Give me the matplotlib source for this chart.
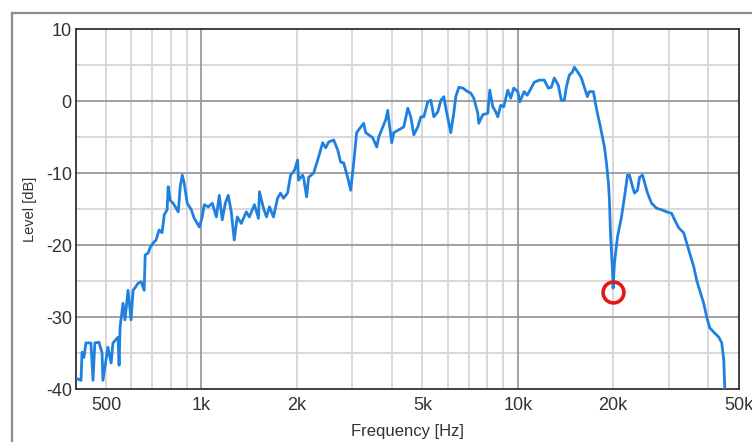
import matplotlib
matplotlib.use("Agg")
import matplotlib.pyplot as plt
from matplotlib.lines import Line2D

plt.rcParams['font.family'] = ['Liberation Sans', 'DejaVu Sans']
plt.rcParams['axes.unicode_minus'] = False

freq_hz = [402, 417, 420, 426, 432, 448, 455, 461, 475, 486, 489, 507, 519, 526,
           546, 550, 554, 566, 574, 587, 600, 609, 632, 646, 660, 665, 680, 690,
           705, 720, 736, 752, 764, 780, 786, 798, 815, 833, 846, 858, 871, 883,
           903, 930, 950, 986, 1007, 1022, 1052, 1084, 1116, 1140, 1165, 1191,
           1217, 1244, 1271, 1299, 1338, 1388, 1419, 1472, 1516, 1527, 1573, 1607,
           1643, 1691, 1742, 1780, 1819, 1873, 1915, 1972, 2015, 2030, 2090, 2106,
           2152, 2184, 2265, 2332, 2383, 2418, 2472, 2526, 2620, 2698, 2757, 2818,
           2901, 2965, 3031, 3097, 3143, 3259, 3307, 3380, 3481, 3584, 3637, 3745,
           3827, 3884, 3912, 3998, 4057, 4207, 4364, 4493, 4592, 4693, 4833, 4939,
           5048, 5198, 5313, 5430, 5591, 5714, 5840, 5925, 6143, 6278, 6370, 6511,
           6704, 6950, 7104, 7260, 7476, 7530, 7754, 8039, 8157, 8337, 8520, 8645,
           8835, 9030, 9298, 9503, 9712, 10000, 10147, 10478, 10709, 11026, 11270,
           11690, 12125, 12485, 12761, 13044, 13429, 13726, 14030, 14236, 14551,
           14873, 15092, 15539, 15883, 16234, 16594, 16838, 17337, 17591, 17850,
           18245, 18785, 19061, 19341, 19483, 19626, 19914, 20010, 20207, 20654,
           21266, 21737, 22218, 22544, 23043, 23381, 23898, 24249, 24785, 25149,
           25705, 26466, 27450, 28470, 29528, 30625, 31303, 32230, 33428, 34168,
           34924, 35959, 36755, 37568, 38680, 39536, 40411, 41608, 43153, 44108,
           44756, 45083, 45400]
level_db = [-38.5, -38.8, -34.9, -35.6, -33.6, -33.6, -38.8, -33.6, -33.5, -35.0,
            -38.8, -34.2, -36.4, -33.6, -32.8, -36.7, -31.4, -28.1, -30.4, -26.3,
            -30.4, -26.3, -25.3, -25.1, -26.3, -21.4, -21.1, -20.3, -19.7, -19.3,
            -17.9, -18.3, -15.8, -15.1, -11.9, -13.8, -14.2, -14.9, -15.4, -11.9,
            -10.3, -11.4, -14.2, -15.1, -16.3, -17.5, -16.1, -14.4, -14.7, -14.2,
            -16.1, -13.1, -16.5, -14.2, -13.1, -15.4, -19.3, -16.1, -17.0, -15.4,
            -16.1, -14.4, -16.3, -12.6, -14.9, -16.1, -14.7, -16.1, -13.5, -12.8,
            -13.5, -12.8, -10.3, -9.6, -8.2, -11.0, -10.3, -10.7, -13.3, -10.6,
            -10.0, -8.2, -6.8, -5.8, -6.5, -5.7, -5.4, -6.8, -8.5, -8.6,
            -10.6, -12.4, -8.6, -4.4, -4.0, -3.1, -4.4, -4.7, -5.1, -6.4,
            -5.0, -3.6, -2.6, -1.3, -2.6, -5.8, -4.4, -4.0, -3.6, -1.0,
            -2.2, -4.7, -3.6, -2.2, -2.2, -0.1, 0.1, -2.2, -1.5, 0.1,
            0.6, -1.0, -4.4, -1.7, 0.6, 1.9, 1.8, 1.3, 1.1, 0.4,
            -1.7, -3.1, -1.9, -1.7, 1.5, -0.8, -1.5, -2.2, -0.6, -0.8,
            1.5, 0.4, 1.8, 1.3, -0.1, 1.3, 0.8, 1.8, 2.6, 2.9,
            2.9, 1.8, 1.9, 3.2, 2.2, 0.1, 0.1, 1.9, 3.6, 4.0,
            4.7, 3.9, 3.2, 1.9, 0.6, 1.3, 1.3, -0.3, -1.7, -3.6,
            -6.4, -8.6, -11.4, -13.8, -18.3, -23.5, -26.0, -22.5, -18.9, -16.1,
            -13.3, -10.3, -10.3, -11.9, -12.8, -12.4, -10.6, -10.3, -11.3, -12.8,
            -14.2, -14.9, -15.1, -15.4, -15.6, -16.5, -17.6, -18.3, -19.7, -21.1,
            -23.0, -24.9, -26.3, -28.1, -30.0, -31.5, -32.1, -32.8, -33.6, -36.0,
            -39.9, -45.0]

# marked notch
notch_hz = 19950
notch_db = -26.5

x_ticks = [500, 1000, 2000, 5000, 10000, 20000, 50000]
x_labels = ['500', '1k', '2k', '5k', '10k', '20k', '50k']
y_ticks = [10, 0, -10, -20, -30, -40]
y_labels = ['10', '0', '-10', '-20', '-30', '-40']

v_light = [500, 600, 700, 800, 900, 2000, 3000, 4000, 5000, 6000, 7000, 8000,
           9000, 20000, 30000, 40000]
v_dark = [1000, 10000]
h_light = [5, -5, -15, -25, -35]
h_dark = [0, -10, -20, -30]

fig = plt.figure(figsize=(7.52, 4.42), dpi=100)
ax = fig.add_axes([76 / 752, 1 - 389 / 442, 663 / 752, 360 / 442])

for v in v_light:
    ax.axvline(v, color='#d6d6d6', lw=1.3, zorder=1)
for h in h_light:
    ax.axhline(h, color='#d6d6d6', lw=1.3, zorder=1)
for v in v_dark:
    ax.axvline(v, color='#9a9a9a', lw=1.3, zorder=1)
for h in h_dark:
    ax.axhline(h, color='#9a9a9a', lw=1.3, zorder=1)

ax.plot(freq_hz, level_db, color='#1f80e0', lw=2.0, zorder=3)
ax.plot([notch_hz], [notch_db], 'o', ms=15, mfc='none', mec='#e01818',
        mew=2.6, zorder=4)

ax.set_xscale('log')
ax.set_xlim(402, 50000)
ax.set_ylim(-40, 10)
ax.set_xticks(x_ticks)
ax.set_xticklabels(x_labels)
ax.xaxis.set_minor_locator(matplotlib.ticker.NullLocator())
ax.set_yticks(y_ticks)
ax.set_yticklabels(y_labels)
ax.tick_params(length=0, labelsize=13, colors='#333333')
ax.tick_params(axis='x', pad=6)
ax.tick_params(axis='y', pad=3)
for s in ax.spines.values():
    s.set_color('#303030')
    s.set_linewidth(1.3)

ax.set_xlabel('Frequency [Hz]', fontsize=12, color='#333333', labelpad=7)
ax.set_ylabel('Level [dB]', fontsize=10.5, color='#333333', labelpad=6)

# outer panel frame
fig.add_artist(Line2D([11.5 / 752, 11.5 / 752], [0, 1 - 12.5 / 442],
                      color='#8c8c8c', lw=1.6))
fig.add_artist(Line2D([11.5 / 752, 1], [1 - 12.5 / 442, 1 - 12.5 / 442],
                      color='#8c8c8c', lw=1.6))

fig.savefig('out.png', dpi=100)
